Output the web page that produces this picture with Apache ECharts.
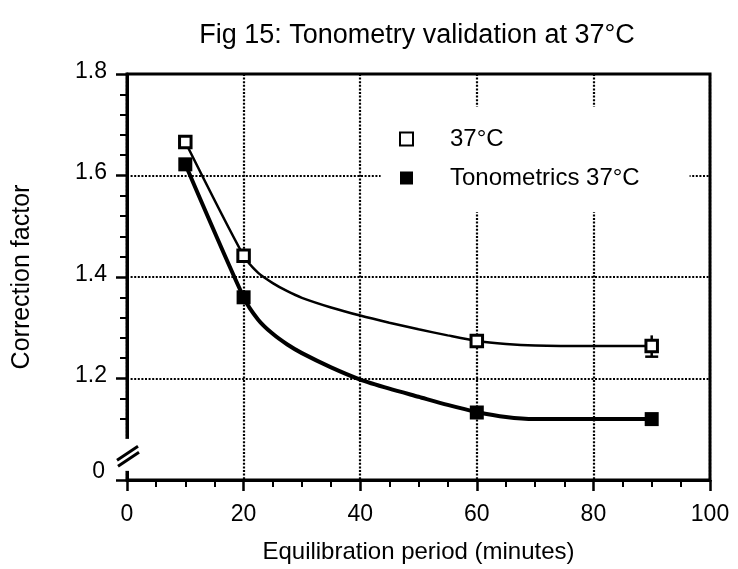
<!DOCTYPE html>
<html><head><meta charset="utf-8">
<script src="https://cdn.jsdelivr.net/npm/echarts@6/dist/echarts.min.js"></script>
<style>html,body{margin:0;padding:0;background:#fff}#c{width:738px;height:569px}</style>
</head><body><div id="c"></div>
<script>
// ---- data ----
const seriesNames = ['37°C', 'Tonometrics 37°C'];
const xPoints = [10, 20, 60, 90];
const open37 = [1.666, 1.442, 1.274, 1.264];
const tonometrics = [1.622, 1.360, 1.133, 1.120];
const openErrX = [90];
const openErrLow = [1.243];
const openErrHigh = [1.285];
// fitted curves
const fitX     = [10, 20, 22.5, 25, 27.5, 30, 35, 40, 45, 50, 55, 60, 65, 70, 80, 90];
const openFit  = [1.666, 1.442, 1.408, 1.388, 1.372, 1.359, 1.340, 1.324, 1.310, 1.297, 1.285, 1.274, 1.268, 1.265, 1.264, 1.264];
const tonoFit  = [1.622, 1.360, 1.316, 1.288, 1.267, 1.250, 1.222, 1.198, 1.180, 1.164, 1.148, 1.134, 1.124, 1.120, 1.120, 1.120];
const xTickLabels = ['0', '20', '40', '60', '80', '100'];
const yTickLabels = ['0', '1.2', '1.4', '1.6', '1.8']; // bottom tick sits after an axis break

const FONT = '"Liberation Sans", Arial, Helvetica, sans-serif';
const chart = echarts.init(document.getElementById('c'));
const dotted = { color: '#000', width: 2.2, type: [2, 1.6] };

chart.setOption({
  animation: false,
  backgroundColor: '#fff',
  textStyle: { fontFamily: FONT, color: '#000' },
  title: {
    text: 'Fig 15: Tonometry validation at 37°C',
    left: 412, top: 17, textAlign: 'center',
    textStyle: { fontFamily: FONT, fontSize: 27, fontWeight: 'normal', color: '#000' }
  },
  grid: { left: 127, right: 28, top: 74, bottom: 87, show: true, borderColor: '#000', borderWidth: 3, backgroundColor: 'transparent' },
  legend: {
    data: seriesNames,
    orient: 'vertical',
    left: 394, top: 122,
    itemWidth: 13, itemHeight: 13, itemGap: 15,
    selectedMode: false,
    textStyle: { fontFamily: FONT, fontSize: 24, color: '#000', padding: [0, 0, 0, 32] },
    z: 10
  },
  xAxis: {
    type: 'value', min: 0, max: 100, interval: 20,
    name: 'Equilibration period (minutes)', nameLocation: 'middle', nameGap: 60,
    nameTextStyle: { fontFamily: FONT, fontSize: 24, color: '#000' },
    axisLine: { lineStyle: { color: '#000', width: 3 } },
    axisTick: { length: 11, lineStyle: { color: '#000', width: 2.5 } },
    minorTick: { show: true, splitNumber: 4, length: 7, lineStyle: { color: '#000', width: 2 } },
    axisLabel: { fontFamily: FONT, fontSize: 23, color: '#000', margin: 23,
      formatter: v => xTickLabels[Math.round(v / 20)] },
    splitLine: { show: true, lineStyle: dotted }
  },
  yAxis: {
    type: 'value', min: 1.0, max: 1.8, interval: 0.2,
    name: 'Correction factor', nameLocation: 'middle', nameGap: 92, nameRotate: 90,
    nameTextStyle: { fontFamily: FONT, fontSize: 25, color: '#000' },
    axisLine: { show: true, lineStyle: { color: '#000', width: 3 } },
    axisTick: { length: 11, lineStyle: { color: '#000', width: 2.5 } },
    minorTick: { show: true, splitNumber: 5, length: 7, lineStyle: { color: '#000', width: 2 } },
    axisLabel: { fontFamily: FONT, fontSize: 23, color: '#000', margin: 20,
      formatter: v => { const i = Math.round((v - 1) / 0.2); return i === 0 ? '{z|0}' : '{n|' + yTickLabels[i] + '}'; },
      rich: {
        z: { fontFamily: FONT, fontSize: 23, color: '#000', padding: [0, 2, 16, 0] },
        n: { fontFamily: FONT, fontSize: 23, color: '#000', padding: [0, 0, 5, 0] }
      } },
    splitLine: { show: true, lineStyle: dotted }
  },
  series: [
    { name: seriesNames[0] + ' fit', type: 'line', data: fitX.map((x, i) => [x, openFit[i]]),
      showSymbol: false, smooth: 0.25, lineStyle: { color: '#000', width: 2.5 }, z: 3, silent: true },
    { name: seriesNames[1] + ' fit', type: 'line', data: fitX.map((x, i) => [x, tonoFit[i]]),
      showSymbol: false, smooth: 0.25, lineStyle: { color: '#000', width: 4 }, z: 3, silent: true },
    { type: 'custom', z: 4, silent: true,
      data: openErrX.map((x, i) => [x, openErrLow[i], openErrHigh[i]]),
      renderItem: (params, api) => {
        const x = api.value(0), lo = api.coord([x, api.value(1)]), hi = api.coord([x, api.value(2)]);
        return { type: 'group', children: [
          { type: 'line', shape: { x1: lo[0], y1: lo[1], x2: hi[0], y2: hi[1] }, style: { stroke: '#000', lineWidth: 2.5 } },
          { type: 'line', shape: { x1: lo[0] - 6.5, y1: lo[1], x2: lo[0] + 6.5, y2: lo[1] }, style: { stroke: '#000', lineWidth: 2.5 } }
        ] };
      } },
    { name: seriesNames[0], type: 'scatter', symbol: 'rect', symbolSize: 11.5, z: 6,
      data: xPoints.map((x, i) => [x, open37[i]]),
      itemStyle: { color: '#fff', borderColor: '#000', borderWidth: 3, opacity: 1 } },
    { name: seriesNames[1], type: 'scatter', symbol: 'rect', symbolSize: 14, z: 6,
      data: xPoints.map((x, i) => [x, tonometrics[i]]),
      itemStyle: { color: '#000', borderWidth: 0, opacity: 1 } }
  ]
});

function decorate() {
  const p = (x, y) => chart.convertToPixel({ gridIndex: 0 }, [x, y]);
  const top = p(0, 1.083), stub = p(0, 1.018), o = p(0, 1.0);
  const boxL = p(43.5, 1.6)[0], boxR = p(96.5, 1.6)[0];
  const yTop = p(0, 1.735)[1], yBot = p(0, 1.528)[1];
  const cx = o[0], cy = (top[1] + stub[1]) / 2;
  chart.setOption({
    graphic: [
      { type: 'rect', z: 1, shape: { x: boxL, y: yTop, width: boxR - boxL, height: yBot - yTop }, style: { fill: '#fff' } },
      { type: 'rect', z: 5, shape: { x: cx - 14, y: top[1] + 1, width: 17, height: stub[1] - top[1] - 1 }, style: { fill: '#fff' } },
      { type: 'line', z: 6, shape: { x1: cx - 10, y1: cy + 6, x2: cx + 11, y2: cy - 8 }, style: { stroke: '#000', lineWidth: 3 } },
      { type: 'line', z: 6, shape: { x1: cx - 9, y1: cy + 12, x2: cx + 12, y2: cy - 2 }, style: { stroke: '#000', lineWidth: 3 } }
    ]
  });
}
decorate();
</script></body></html>
